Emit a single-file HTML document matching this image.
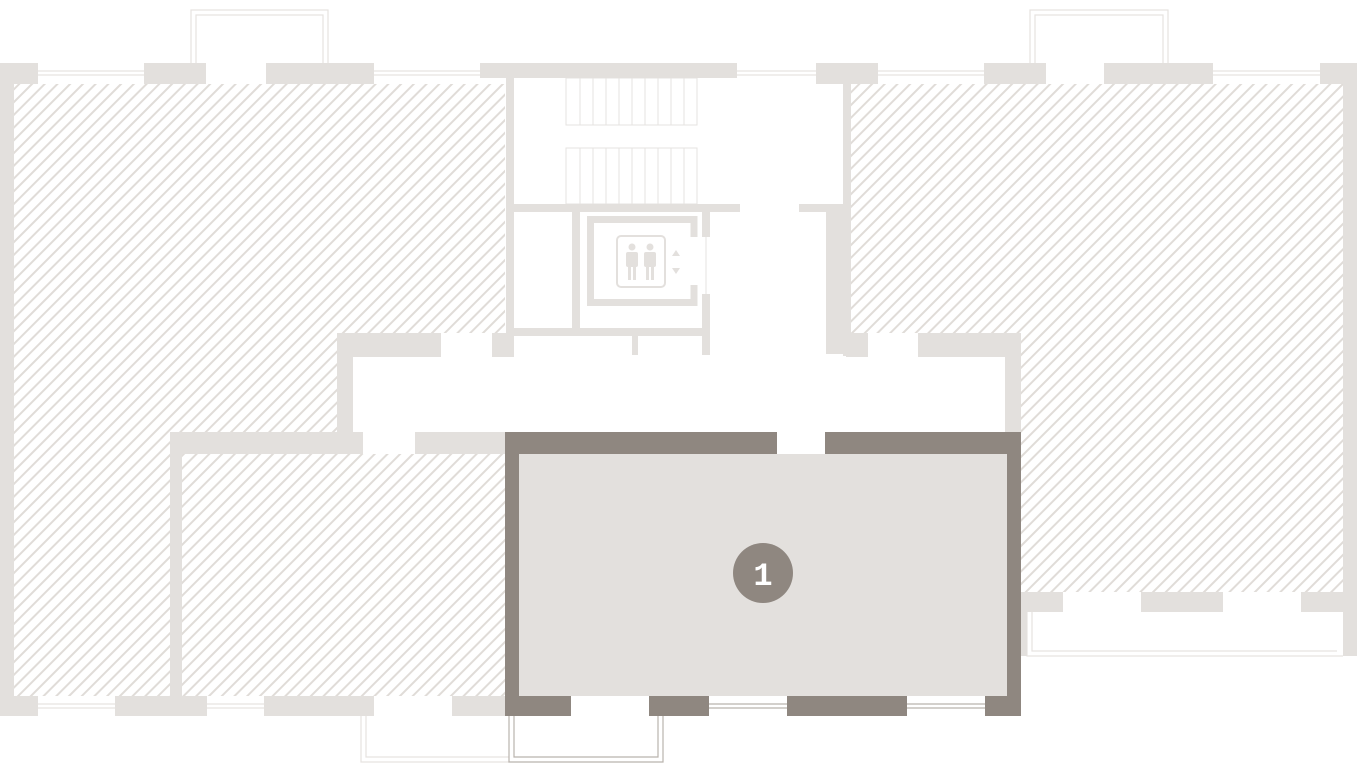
<!DOCTYPE html>
<html><head><meta charset="utf-8"><style>
html,body{margin:0;padding:0;background:#fff;}
svg{display:block;}
</style></head><body>
<svg width="1357" height="763" viewBox="0 0 1357 763" xmlns="http://www.w3.org/2000/svg">
<defs>
<pattern id="h" width="9" height="9" patternUnits="userSpaceOnUse" patternTransform="rotate(45)">
<line x1="1" y1="0" x2="1" y2="9" stroke="#e0dcd8" stroke-width="2"/>
</pattern>
</defs>
<g fill="url(#h)">
<rect x="14" y="84" width="491" height="249"/>
<rect x="14" y="333" width="323" height="99"/>
<rect x="14" y="432" width="156" height="264"/>
<rect x="182" y="454" width="323" height="242"/>
<rect x="851" y="84" width="492" height="249"/>
<rect x="1021" y="333" width="322" height="259"/>
</g>
<g fill="none" stroke="#e6e3e0" stroke-width="1.2">
<line x1="38" y1="71" x2="144" y2="71"/><line x1="38" y1="75" x2="144" y2="75"/>
<line x1="374" y1="71" x2="480" y2="71"/><line x1="374" y1="75" x2="480" y2="75"/>
<line x1="737" y1="71" x2="816" y2="71"/><line x1="737" y1="75" x2="816" y2="75"/>
<line x1="878" y1="71" x2="984" y2="71"/><line x1="878" y1="75" x2="984" y2="75"/>
<line x1="1213" y1="71" x2="1320" y2="71"/><line x1="1213" y1="75" x2="1320" y2="75"/>
<path d="M191 63 V10 H328 V63"/><path d="M196 63 V15 H323 V63"/>
<path d="M1030 63 V10 H1168 V63"/><path d="M1035 63 V15 H1163 V63"/>
<line x1="38" y1="704" x2="115" y2="704"/><line x1="38" y1="708" x2="115" y2="708"/>
<line x1="207" y1="704" x2="264" y2="704"/><line x1="207" y1="708" x2="264" y2="708"/>
<path d="M361 716 V762 H509"/><path d="M366 716 V757 H509"/>
<path d="M1027 612 V656 H1343"/><path d="M1032 612 V651 H1337"/>
</g>
<g fill="none" stroke="#b9b3ad" stroke-width="1.2">
<path d="M509 716 V762 H663 V716"/><path d="M514 716 V757 H658 V716"/>
</g>
<g stroke="#e6e3e0" stroke-width="1" fill="none">
<rect x="566" y="78" width="131" height="47"/>
<rect x="566" y="148" width="131" height="56"/>
<path d="M580 78V125M593 78V125M606 78V125M619 78V125M632 78V125M645 78V125M658 78V125M671 78V125M684 78V125"/>
<path d="M580 148V204M593 148V204M606 148V204M619 148V204M632 148V204M645 148V204M658 148V204M671 148V204M684 148V204"/>
<line x1="706" y1="237" x2="706" y2="294"/>
</g>
<g fill="#e3e0dd">
<rect x="0" y="63" width="14" height="653"/>
<rect x="0" y="63" width="38" height="21"/>
<rect x="144" y="63" width="62" height="21"/>
<rect x="266" y="63" width="108" height="21"/>
<rect x="480" y="63" width="257" height="15"/>
<rect x="816" y="63" width="62" height="21"/>
<rect x="984" y="63" width="62" height="21"/>
<rect x="1104" y="63" width="109" height="21"/>
<rect x="1320" y="63" width="37" height="21"/>
<rect x="1343" y="63" width="14" height="593"/>
<rect x="506" y="78" width="8" height="279"/>
<rect x="843" y="78" width="8" height="278"/>
<rect x="826" y="204" width="24" height="150"/>
<rect x="514" y="204" width="226" height="8"/>
<rect x="799" y="204" width="44" height="8"/>
<rect x="572" y="212" width="8" height="116"/>
<rect x="506" y="328" width="204" height="8"/>
<rect x="702" y="212" width="8" height="25"/>
<rect x="702" y="294" width="8" height="61"/>
<rect x="632" y="336" width="6" height="19"/>
<rect x="492" y="333" width="20" height="24"/>
<rect x="337" y="333" width="104" height="24"/>
<rect x="337" y="333" width="16" height="121"/>
<rect x="170" y="432" width="193" height="22"/>
<rect x="415" y="432" width="90" height="22"/>
<rect x="170" y="432" width="12" height="284"/>
<rect x="846" y="333" width="22" height="24"/>
<rect x="918" y="333" width="103" height="24"/>
<rect x="1005" y="333" width="16" height="99"/>
<rect x="0" y="696" width="38" height="20"/>
<rect x="115" y="696" width="92" height="20"/>
<rect x="264" y="696" width="110" height="20"/>
<rect x="452" y="696" width="53" height="20"/>
<rect x="1021" y="592" width="42" height="20"/>
<rect x="1141" y="592" width="82" height="20"/>
<rect x="1301" y="592" width="56" height="20"/>
<rect x="1021" y="612" width="6" height="44"/>
</g>
<g fill="none" stroke="#e3e0dd" stroke-width="7">
<path d="M694 237 V219.5 H590.5 V302.5 H694 V285"/>
</g>
<g fill="none" stroke="#e3e0dd" stroke-width="2">
<rect x="617" y="236" width="48" height="51" rx="4"/>
</g>
<g fill="#e3e0dd">
<circle cx="632" cy="247" r="3.5"/><rect x="626" y="252" width="12" height="15" rx="2"/><rect x="628" y="265" width="3" height="15"/><rect x="633" y="265" width="3" height="15"/>
<circle cx="650" cy="247" r="3.5"/><rect x="644" y="252" width="12" height="15" rx="2"/><rect x="646" y="265" width="3" height="15"/><rect x="651" y="265" width="3" height="15"/>
<path d="M672 256 L676 250 L680 256Z"/><path d="M672 268 L676 274 L680 268Z"/>
</g>
<rect x="505" y="432" width="516" height="284" fill="#8f8780"/>
<rect x="519" y="454" width="488" height="242" fill="#e3e0dd"/>
<rect x="777" y="432" width="48" height="22" fill="#fff"/>
<rect x="571" y="696" width="78" height="20" fill="#fff"/>
<rect x="709" y="696" width="78" height="20" fill="#fff"/>
<rect x="907" y="696" width="78" height="20" fill="#fff"/>
<g fill="none" stroke="#b9b3ad" stroke-width="1.2">
<line x1="709" y1="704" x2="787" y2="704"/><line x1="709" y1="708" x2="787" y2="708"/>
<line x1="907" y1="704" x2="985" y2="704"/><line x1="907" y1="708" x2="985" y2="708"/>
</g>
<circle cx="763" cy="573" r="30" fill="#8f8780"/>
<text x="763" y="585" text-anchor="middle" font-family="Liberation Mono, monospace" font-weight="bold" font-size="32" fill="#fff">1</text>
</svg>
</body></html>
